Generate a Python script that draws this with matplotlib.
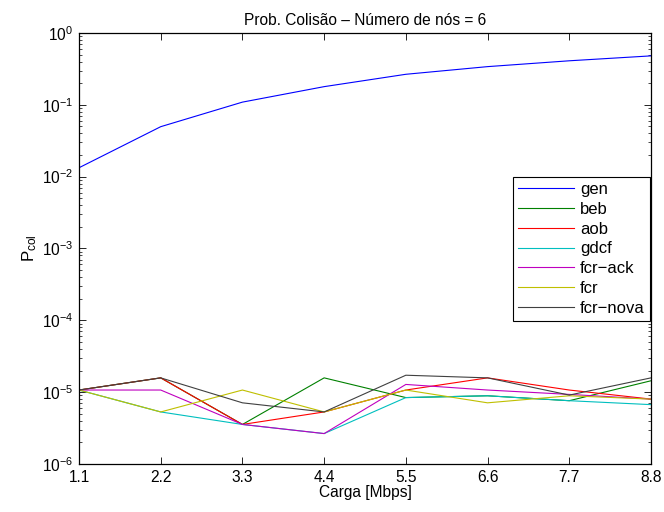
import numpy as np
import matplotlib
matplotlib.use("Agg")
import matplotlib.pyplot as plt
from matplotlib.ticker import LogLocator, NullFormatter

plt.rcParams['font.family'] = ['Liberation Sans', 'DejaVu Sans']
plt.rcParams['mathtext.fontset'] = 'custom'
plt.rcParams['mathtext.rm'] = 'Liberation Sans'
plt.rcParams['mathtext.it'] = 'Liberation Sans'

carga = [1.1, 2.2, 3.3, 4.4, 5.5, 6.6, 7.7, 8.8]

gen = [0.0133, 0.0496, 0.109, 0.179, 0.266, 0.34, 0.41, 0.48]
beb = [1.07e-5, 1.58e-5, 3.55e-6, 1.58e-5, 8.4e-6, 8.9e-6, 7.6e-6, 1.44e-5]
aob = [1.07e-5, 1.58e-5, 3.55e-6, 5.3e-6, 1.07e-5, 1.58e-5, 1.07e-5, 8.0e-6]
gdcf = [1.07e-5, 5.3e-6, 3.55e-6, 2.65e-6, 8.4e-6, 8.9e-6, 7.6e-6, 6.7e-6]
fcr_ack = [1.07e-5, 1.07e-5, 3.55e-6, 2.65e-6, 1.28e-5, 1.07e-5, 9.3e-6, 8.0e-6]
fcr = [1.07e-5, 5.3e-6, 1.07e-5, 5.3e-6, 1.07e-5, 7.1e-6, 8.9e-6, 8.0e-6]
fcr_nova = [1.07e-5, 1.58e-5, 7.1e-6, 5.3e-6, 1.72e-5, 1.58e-5, 9.1e-6, 1.58e-5]

series = [
    ('gen', gen, (0, 0, 1)),
    ('beb', beb, (0, 0.5, 0)),
    ('aob', aob, (1, 0, 0)),
    ('gdcf', gdcf, (0, 0.75, 0.75)),
    ('fcr\u2212ack', fcr_ack, (0.75, 0, 0.75)),
    ('fcr', fcr, (0.75, 0.75, 0)),
    ('fcr\u2212nova', fcr_nova, (0.25, 0.25, 0.25)),
]

fs = 11.2

fig = plt.figure(figsize=(6.64, 5.12), dpi=100)
ax = fig.add_axes([0.119, 0.0938, 0.8614, 0.8418])

for name, vals, col in series:
    ax.plot(carga, vals, color=col, linewidth=0.8, label=name)

ax.set_yscale('log')
ax.set_xlim(1.1, 8.8)
ax.set_ylim(1e-6, 1)
ax.set_xticks(carga)
ax.set_xticklabels([f"{c:.1f}" for c in carga])
ax.yaxis.set_major_locator(LogLocator(base=10, numticks=10))
ax.yaxis.set_minor_locator(LogLocator(base=10, subs=np.arange(2, 10), numticks=20))
ax.yaxis.set_minor_formatter(NullFormatter())

ax.tick_params(which='both', direction='in', top=True, right=True, labelsize=fs)
ax.tick_params(which='major', length=5, width=0.6, pad=4)
ax.tick_params(which='minor', length=2.5, width=0.5)
for s in ax.spines.values():
    s.set_linewidth(0.9)

ax.set_title('Prob. Colisão \u2013 Número de nós = 6', fontsize=fs, pad=6)
ax.set_xlabel('Carga [Mbps]', fontsize=fs, labelpad=0)
ax.set_ylabel(r'P$_{\mathrm{col}}$', fontsize=fs + 1, labelpad=2)

leg = ax.legend(loc='upper right', bbox_to_anchor=(0.998, 0.666), fontsize=12,
                frameon=True, fancybox=False, edgecolor='black', framealpha=1,
                borderpad=0.3, labelspacing=0.29, handlelength=3.4, handletextpad=0.35,
                borderaxespad=0)
leg.get_frame().set_linewidth(0.8)

fig.savefig('out.png', dpi=100)
